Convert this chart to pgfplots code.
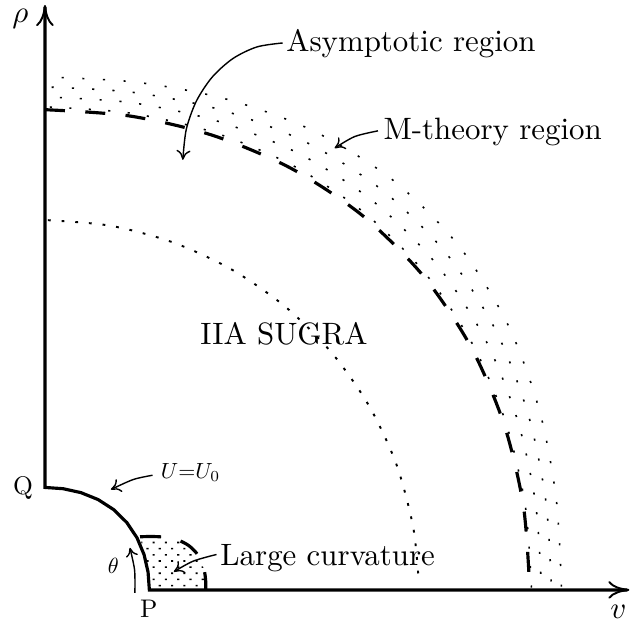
\documentclass[border=0pt]{standalone}
\usepackage{pgfplots}
\pgfplotsset{compat=1.18}
\usetikzlibrary{arrows.meta,patterns}
\pgfdeclarepatternformonly{sparsedots}{\pgfqpoint{-1pt}{-1pt}}{\pgfqpoint{8pt}{8pt}}{\pgfqpoint{7pt}{7pt}}{%
  \pgfpathrectangle{\pgfqpoint{-0.6pt}{-0.45pt}}{\pgfqpoint{1.2pt}{0.9pt}}%
  \pgfpathrectangle{\pgfqpoint{2.9pt}{3.05pt}}{\pgfqpoint{1.2pt}{0.9pt}}%
  \pgfusepath{fill}}
\begin{document}
\begin{tikzpicture}
\begin{axis}[
  scale only axis, width=12.62cm, height=12.46cm,
  xmin=-0.45, xmax=5.86, ymin=-0.325, ymax=5.905,
  axis line style={draw=none}, xtick=\empty, ytick=\empty,
  clip=false,
]
% large curvature region fill
\addplot[draw=none, pattern=sparsedots] coordinates {
 (1.045,0) (1.61,0) (1.6086,0.0938) (1.5956,0.1894) (1.5660,0.2847) (1.5140,0.3724)
 (1.4394,0.4439) (1.3479,0.4931) (1.2486,0.5205) (1.1485,0.5321) (1.05,0.535)
 (0.9515,0.5321) (0.9917,0.3544) (1.0320,0.1787) (1.045,0)};
% M-theory band: dotted arcs
\addplot[smooth, line width=0.9pt, dash pattern=on 1.2pt off 9.9pt, dash phase=8.3pt] coordinates {
 (0,4.8359) (0.8477,4.7739) (1.6798,4.5828) (2.4725,4.2525) (3.1927,3.7783)
 (3.8049,3.1704) (4.2825,2.4552) (4.6151,1.6680) (4.8076,0.8418) (4.87,0)};
\addplot[smooth, line width=0.9pt, dash pattern=on 1.2pt off 10.13pt, dash phase=2.83pt] coordinates {
 (0,4.9352) (0.8660,4.8770) (1.7206,4.6942) (2.5402,4.3689) (3.2863,3.8891)
 (3.9165,3.2633) (4.3997,2.5224) (4.7273,1.7086) (4.9114,0.8599) (4.97,0)};
\addplot[smooth, line width=0.9pt, dash pattern=on 1.2pt off 10.36pt, dash phase=7.76pt] coordinates {
 (0,5.0345) (0.8843,4.9801) (1.7613,4.8052) (2.6074,4.4846) (3.3793,3.9990)
 (4.0272,3.3556) (4.5162,2.5891) (4.8391,1.7490) (5.0152,0.8781) (5.07,0)};
\addplot[smooth, line width=0.9pt, dash pattern=on 1.2pt off 10.58pt, dash phase=2.28pt] coordinates {
 (0,5.1338) (0.9026,5.0833) (1.8022,4.9167) (2.675,4.6009) (3.4729,4.1098)
 (4.1388,3.4486) (4.6333,2.6563) (4.9514,1.7896) (5.1191,0.8963) (5.17,0)};
% IIA SUGRA boundary (dotted)
\addplot[smooth, line width=1.1pt, dash pattern=on 1.6pt off 6.2pt, dash phase=6.1pt] coordinates {
 (0,3.7026) (0.6494,3.6464) (1.2792,3.4793) (1.87,3.2065) (2.4040,2.8364)
 (2.8650,2.3800) (3.2389,1.8513) (3.5144,1.2664) (3.6832,0.6429) (3.7372,0.1422)};
% M-theory boundary (dashed)
\addplot[smooth, line width=1.8pt, dash pattern=on 11.4pt off 11.6pt] coordinates {
 (0,4.807) (0.8445,4.7446) (1.6725,4.5522) (2.4603,4.2215) (3.1757,3.7491)
 (3.7845,3.1459) (4.2613,2.4373) (4.5952,1.6569) (4.7894,0.8366) (4.8527,0)};
% large curvature boundary (dashed)
\addplot[smooth, line width=1.8pt, dash pattern=on 12pt off 11.4pt] coordinates {
 (0.9515,0.5321) (1.05,0.535) (1.1485,0.5321) (1.2486,0.5205) (1.3479,0.4931)
 (1.4394,0.4439) (1.5140,0.3724) (1.5660,0.2847) (1.5956,0.1894) (1.6086,0.0938) (1.61,0)};
% axes and U=U0 boundary
\addplot[sharp plot, line width=1.8pt,
  {To[length=12pt,width=10pt,line width=1.1pt]}-{To[length=12pt,width=10pt,line width=1.1pt]}] coordinates {
 (0,5.855) (0,1.026) (0.1820,1.0134) (0.3609,0.9739) (0.5319,0.9047) (0.6873,0.8044)
 (0.8191,0.6749) (0.9213,0.5223) (0.9917,0.3544) (1.0320,0.1787) (1.045,0) (5.85,0)};
% annotation arrows
\addplot[smooth, line width=0.8pt, -{To[length=5.5pt,width=8pt]}] coordinates {
 (2.38,5.475) (2.121,5.435) (1.88,5.318) (1.673,5.132) (1.514,4.89) (1.414,4.608) (1.38,4.305)};
\addplot[smooth, line width=0.8pt, -{To[length=5.5pt,width=8pt]}] coordinates {
 (3.333,4.595) (3.10,4.538) (2.90,4.422)};
\addplot[smooth, line width=0.8pt, -{To[length=5.5pt,width=8pt]}] coordinates {
 (1.077,1.148) (0.883,1.105) (0.66,1.005)};
\addplot[smooth, line width=0.8pt, -{To[length=5.5pt,width=8pt]}] coordinates {
 (1.717,0.355) (1.483,0.288) (1.29,0.182)};
\addplot[smooth, line width=0.8pt, -{To[length=5pt,width=7pt]}] coordinates {
 (0.90,-0.03) (0.897,0.2) (0.85,0.422)};
% labels
\node[anchor=base west, inner sep=0pt, scale=1.76] at (axis cs:2.41,5.388) {Asymptotic region};
\node[anchor=base west, inner sep=0pt, scale=1.76] at (axis cs:3.383,4.505) {M-theory region};
\node[anchor=base west, inner sep=0pt, scale=1.76] at (axis cs:1.55,2.455) {IIA SUGRA};
\node[anchor=base west, inner sep=0pt, scale=1.76] at (axis cs:1.75,0.245) {Large curvature};
\node[anchor=base west, inner sep=0pt, scale=1.25] at (axis cs:1.157,1.115) {$U{=}U_0$};
\node[anchor=base, inner sep=0pt, scale=1.25] at (axis cs:0.685,0.16) {$\theta$};
\node[anchor=base, inner sep=0pt, scale=1.45] at (axis cs:-0.22,0.96) {Q};
\node[anchor=base, inner sep=0pt, scale=1.45] at (axis cs:1.04,-0.28) {P};
\node[anchor=base, inner sep=0pt, scale=1.76] at (axis cs:-0.245,5.68) {$\rho$};
\node[anchor=base, inner sep=0pt, scale=1.76] at (axis cs:5.74,-0.285) {$v$};
\end{axis}
\end{tikzpicture}
\end{document}
